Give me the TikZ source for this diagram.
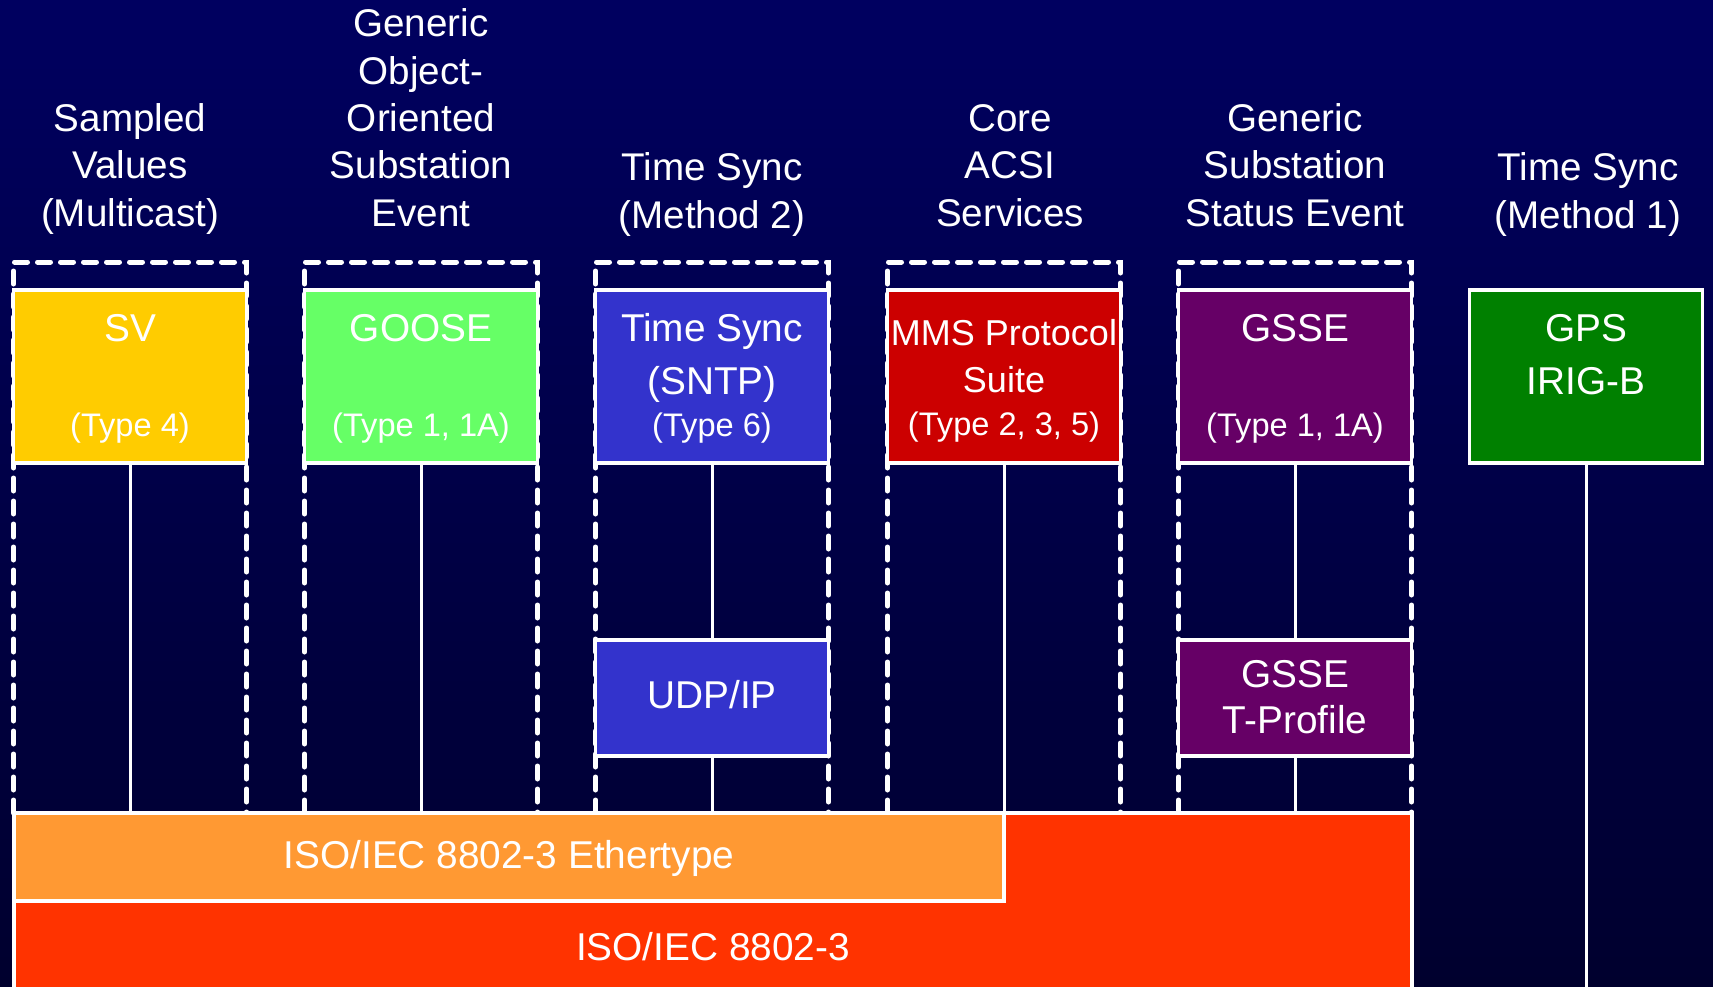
\documentclass[tikz,border=0pt]{standalone}
\usepackage{fontspec}
\setmainfont{Liberation Sans}
\definecolor{bgtop}{RGB}{0,0,96}
\definecolor{bgbot}{RGB}{0,0,46}
\definecolor{svc}{HTML}{FFCC00}
\definecolor{goosec}{HTML}{66FF66}
\definecolor{syncc}{HTML}{3333CC}
\definecolor{mmsc}{HTML}{CC0000}
\definecolor{gssec}{HTML}{660066}
\definecolor{gpsc}{HTML}{008000}
\definecolor{ethc}{HTML}{FF9933}
\definecolor{phyc}{HTML}{FF3300}
\begin{document}
\begin{tikzpicture}[x=0.5pt,y=-0.5pt,
  frame/.style={draw=white, line width=2.5pt, line cap=round, dash pattern=on 6.5pt off 5pt},
  wire/.style={draw=white, line width=1.5pt},
  layer/.style={draw=white, line width=1.7pt, minimum width=116.5pt, inner sep=0pt},
  svcbox/.style={layer, minimum height=86.5pt},
  lowbox/.style={layer, minimum height=58pt},
  lbl/.style={text=white, inner sep=0pt, text height=13.9pt, text depth=0pt, font=\fontsize{19.4}{23}\selectfont},
  midlbl/.style={lbl, text height=12.9pt, font=\fontsize{18}{22}\selectfont},
  sublbl/.style={lbl, text height=11.7pt, font=\fontsize{16.3}{19}\selectfont},
  hdr/.style={text=white, inner sep=0pt, anchor=south, align=center, font=\fontsize{19.3}{23.7}\selectfont}]
\useasboundingbox (0,0) rectangle (1713,986);
\shade[top color=bgtop, bottom color=bgbot] (0,0) rectangle (1713,986);

% column headings
\node[hdr] (h1) at (130,241) {Sampled\\Values\\(Multicast)\strut};
\node[hdr] (h2) at (421,241) {Generic\\Object-\\Oriented\\Substation\\Event\strut};
\node[hdr] (h3) at (712,243) {Time Sync\\(Method 2)\strut};
\node[hdr] (h4) at (1010,241) {Core\\ACSI\\Services\strut};
\node[hdr] (h5) at (1295,241) {Generic\\Substation\\Status Event\strut};
\node[hdr] (h6) at (1588,243) {Time Sync\\(Method 1)\strut};

% dashed stack outlines
\foreach \cx in {130,421,712,1004,1295}{
  \draw[frame] (\cx-116.5,813) -- (\cx-116.5,262) -- (\cx+116.5,262) -- (\cx+116.5,813);
}

% service boxes
\node[svcbox, fill=svc]    (sv)    at (130,376.5)  {};
\node[svcbox, fill=goosec] (goose) at (421,376.5)  {};
\node[svcbox, fill=syncc]  (sntp)  at (712,376.5)  {};
\node[svcbox, fill=mmsc]   (mms)   at (1004,376.5) {};
\node[svcbox, fill=gssec]  (gsse)  at (1295,376.5) {};
\node[svcbox, fill=gpsc]   (gps)   at (1586,376.5) {};

% intermediate boxes
\node[lowbox, fill=syncc] (udp)  at (712,698)  {};
\node[lowbox, fill=gssec] (gssetp) at (1295,698) {};

% link layers
\node[draw=white, line width=1.7pt, fill=phyc, inner sep=0pt,
      minimum width=699pt, minimum height=93.5pt] (phy) at (713,906.5) {};
\node[draw=white, line width=1.7pt, fill=ethc, inner sep=0pt,
      minimum width=495pt, minimum height=44pt] (eth) at (509,857) {};

% connectors
\coordinate (gpsend) at (1586,1000);
\draw[wire] (sv.south) -- (sv.south |- eth.north);
\draw[wire] (goose.south) -- (goose.south |- eth.north);
\draw[wire] (sntp.south) -- (udp.north);
\draw[wire] (udp.south) -- (udp.south |- eth.north);
\draw[wire] (mms.south) -- (mms.south |- eth.north);
\draw[wire] (gsse.south) -- (gssetp.north);
\draw[wire] (gssetp.south) -- (gssetp.south |- phy.north);
\draw[wire] (gps.south) -- (gpsend);

% box texts
\node[lbl]    (svA)   at (130,328) {SV};
\node[sublbl] (svB)   at (130,425) {(Type 4)};
\node[lbl]    (gooseA) at (421,328) {GOOSE};
\node[sublbl] (gooseB) at (421,425) {(Type 1, 1A)};
\node[lbl]    (sntpA) at (712,328) {Time Sync};
\node[lbl]    (sntpB) at (712,381) {(SNTP)};
\node[sublbl] (sntpC) at (712,425) {(Type 6)};
\node[midlbl] (mmsA)  at (1004,333) {MMS Protocol};
\node[midlbl] (mmsB)  at (1004,380) {Suite};
\node[sublbl] (mmsC)  at (1004,424) {(Type 2, 3, 5)};
\node[lbl]    (gsseA) at (1295,328) {GSSE};
\node[sublbl] (gsseB) at (1295,425) {(Type 1, 1A)};
\node[lbl]    (gpsA)  at (1586,328) {GPS};
\node[lbl]    (gpsB)  at (1586,381) {IRIG-B};
\node[lbl]    (udpA)  at (712,695) {UDP/IP};
\node[lbl]    (tpA)   at (1295,674) {GSSE};
\node[lbl]    (tpB)   at (1295,720) {T-Profile};
\node[lbl]    (ethA)  at (509,855) {ISO/IEC 8802-3 Ethertype};
\node[lbl]    (phyA)  at (713,947) {ISO/IEC 8802-3};
\end{tikzpicture}
\end{document}
